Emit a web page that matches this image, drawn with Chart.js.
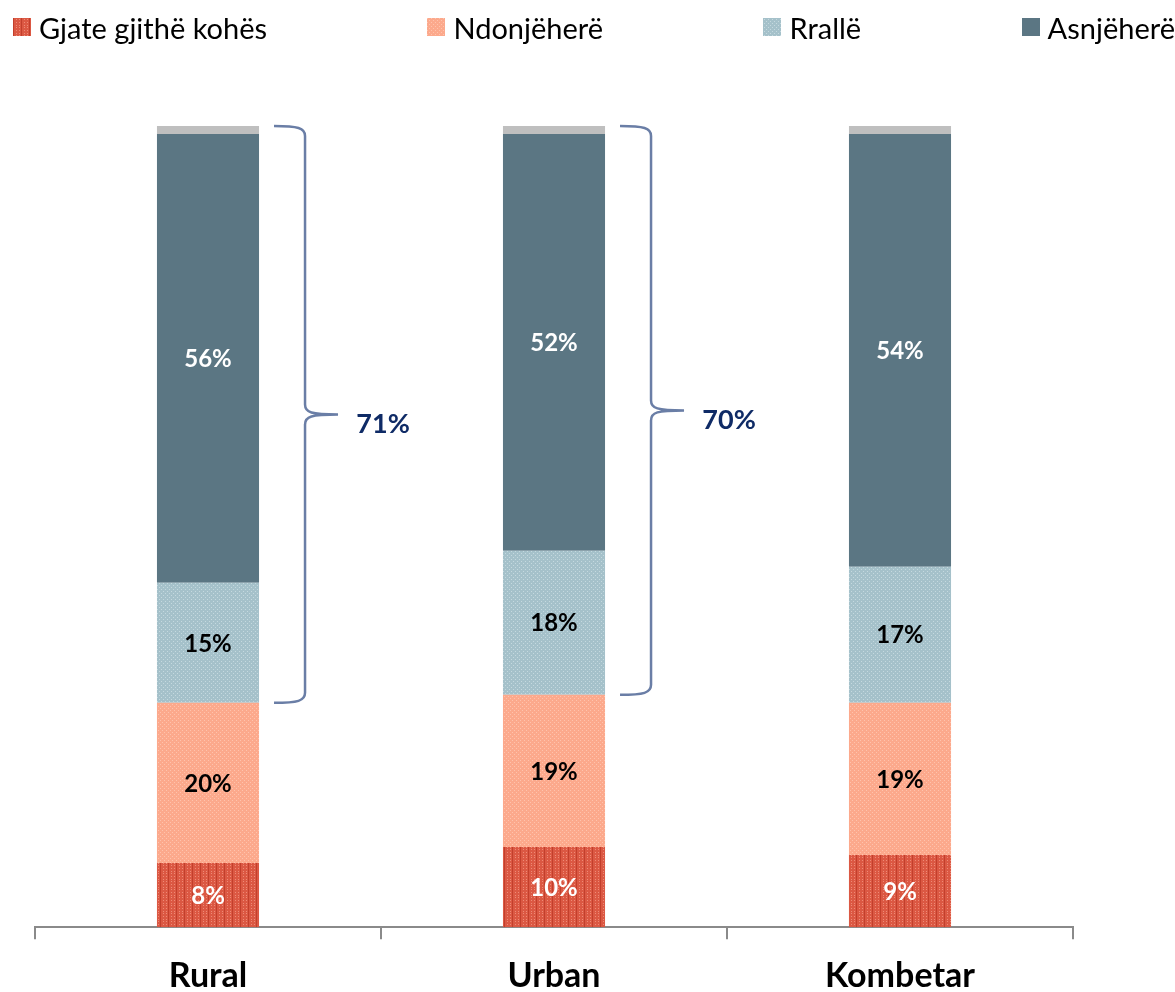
<!DOCTYPE html>
<html>
<head>
<meta charset="utf-8">
<script src="https://cdn.jsdelivr.net/npm/chart.js@4/dist/chart.umd.min.js"></script>
<style>
  body { margin: 0; background: #fff; }
  #wrap { position: relative; width: 1175px; height: 992px; }
  #legend {
    position: absolute; top: 0; left: 13px; right: 0; height: 54px;
    display: flex; justify-content: space-between; align-items: center;
    font-family: Lato, sans-serif; font-size: 29px; color: #000;
  }
  .item { display: flex; align-items: center; white-space: nowrap; }
  .item canvas { margin-right: 8px; }
</style>
</head>
<body>
<div id="wrap">
  <canvas id="chart" width="1175" height="992"></canvas>
  <div id="legend"></div>
</div>
<script>
const categories = ['Rural', 'Urban', 'Kombetar'];
const seriesNames = ['Gjate gjithë kohës', 'Ndonjëherë', 'Rrallë', 'Asnjëherë'];
const allTheTime = [8, 10, 9];
const sometimes = [20, 19, 19];
const rarely = [15, 18, 17];
const never = [56, 52, 54];
const remainder = [1, 1, 1];
// categories that get a bracket over "Rrallë" + "Asnjëherë"
const bracedCategories = ['Rural', 'Urban'];

// small tiled fills for the textured segments
function makePattern(size, base, draw) {
  const c = document.createElement('canvas');
  c.width = size; c.height = size;
  const g = c.getContext('2d');
  g.fillStyle = base;
  g.fillRect(0, 0, size, size);
  draw(g);
  return document.getElementById('chart').getContext('2d').createPattern(c, 'repeat');
}

const redFill = makePattern(8, '#DB5843', g => {
  g.fillStyle = '#C23F2C';
  g.fillRect(0, 0, 1, 8);
  g.fillStyle = '#EE8A76';
  [[3, 1], [6, 1], [3, 4], [6, 4], [3, 7], [6, 7]].forEach(p => g.fillRect(p[0], p[1], 1, 1));
});
const salmonFill = makePattern(4, '#FCA98C', g => {
  g.fillStyle = '#FFC3AD';
  g.fillRect(0, 0, 1, 1);
  g.fillRect(2, 2, 1, 1);
});
const blueFill = makePattern(4, '#A5C1CA', g => {
  g.fillStyle = '#C5D9DF';
  g.fillRect(1, 1, 1, 1);
  g.fillRect(3, 3, 1, 1);
});
const darkFill = '#5B7683';
const grayFill = '#BFBFBF';

const fills = [redFill, salmonFill, blueFill, darkFill];
const labelColors = ['#FFFFFF', '#000000', '#000000', '#FFFFFF'];
const values = [allTheTime, sometimes, rarely, never];

const datasets = values.map((v, i) => ({
  label: seriesNames[i],
  data: v,
  backgroundColor: fills[i],
  borderWidth: 0,
  categoryPercentage: 1,
  barPercentage: 0.295
}));
datasets.push({
  label: 'remainder',
  data: remainder,
  backgroundColor: grayFill,
  borderWidth: 0,
  categoryPercentage: 1,
  barPercentage: 0.295
});

const segmentLabels = {
  id: 'segmentLabels',
  afterDatasetsDraw(chart) {
    const ctx = chart.ctx;
    ctx.save();
    ctx.font = 'bold 24px Lato, sans-serif';
    ctx.textAlign = 'center';
    ctx.textBaseline = 'middle';
    for (let d = 0; d < values.length; d++) {
      const meta = chart.getDatasetMeta(d);
      meta.data.forEach((bar, i) => {
        ctx.fillStyle = labelColors[d];
        ctx.fillText(values[d][i] + '%', bar.x, (bar.y + bar.base) / 2 + 1);
      });
    }
    ctx.restore();
  }
};

const brackets = {
  id: 'brackets',
  afterDatasetsDraw(chart) {
    const ctx = chart.ctx;
    const y = chart.scales.y;
    const meta = chart.getDatasetMeta(0);
    ctx.save();
    bracedCategories.forEach(name => {
      const i = categories.indexOf(name);
      const bar = meta.data[i];
      const right = bar.x + bar.width / 2;
      const lower = allTheTime[i] + sometimes[i];
      const total = lower + rarely[i] + never[i] + remainder[i];
      const y1 = y.getPixelForValue(total);
      const y2 = y.getPixelForValue(lower);
      const ym = (y1 + y2) / 2;
      const x0 = right + 15, xv = right + 46, xt = right + 79;
      const r = 10;

      ctx.strokeStyle = '#6A7EA6';
      ctx.lineWidth = 2.5;
      ctx.beginPath();
      ctx.moveTo(x0, y1);
      ctx.bezierCurveTo(x0 + 24, y1, xv, y1 + 2, xv, y1 + r);
      ctx.lineTo(xv, ym - r);
      ctx.bezierCurveTo(xv, ym - 2, xv + 6, ym, xt, ym);
      ctx.moveTo(xt, ym);
      ctx.bezierCurveTo(xv + 6, ym, xv, ym + 2, xv, ym + r);
      ctx.lineTo(xv, y2 - r);
      ctx.bezierCurveTo(xv, y2 - 2, x0 + 24, y2, x0, y2);
      ctx.stroke();

      ctx.fillStyle = '#0F2B66';
      ctx.font = 'bold 27px Lato, sans-serif';
      ctx.textAlign = 'center';
      ctx.textBaseline = 'middle';
      ctx.fillText((rarely[i] + never[i]) + '%', xv + 78, ym + 10);
    });
    ctx.restore();
  }
};

const chart = new Chart(document.getElementById('chart'), {
  type: 'bar',
  data: { labels: categories, datasets: datasets },
  options: {
    responsive: false,
    animation: false,
    layout: { padding: { top: 126, left: 35, right: 102, bottom: -20 } },
    plugins: {
      legend: { display: false },
      tooltip: { enabled: false }
    },
    scales: {
      x: {
        stacked: true,
        grid: {
          offset: true,
          drawOnChartArea: false,
          drawTicks: true,
          tickLength: 12,
          color: '#8A8A8A',
          lineWidth: 2
        },
        border: { display: true, color: '#8A8A8A', width: 2 },
        ticks: {
          color: '#000',
          padding: 16,
          font: { family: 'Lato, sans-serif', size: 34, weight: 'bold' }
        }
      },
      y: { stacked: true, display: false, min: 0, max: 100 }
    }
  },
  plugins: [segmentLabels, brackets]
});

// legend built from the first four datasets
const legend = document.getElementById('legend');
chart.data.datasets.slice(0, 4).forEach(ds => {
  const item = document.createElement('div');
  item.className = 'item';
  const box = document.createElement('canvas');
  box.width = 18; box.height = 18;
  const g = box.getContext('2d');
  g.fillStyle = ds.backgroundColor;
  g.fillRect(0, 0, 18, 18);
  const text = document.createElement('span');
  text.textContent = ds.label;
  item.appendChild(box);
  item.appendChild(text);
  legend.appendChild(item);
});
</script>
</body>
</html>
